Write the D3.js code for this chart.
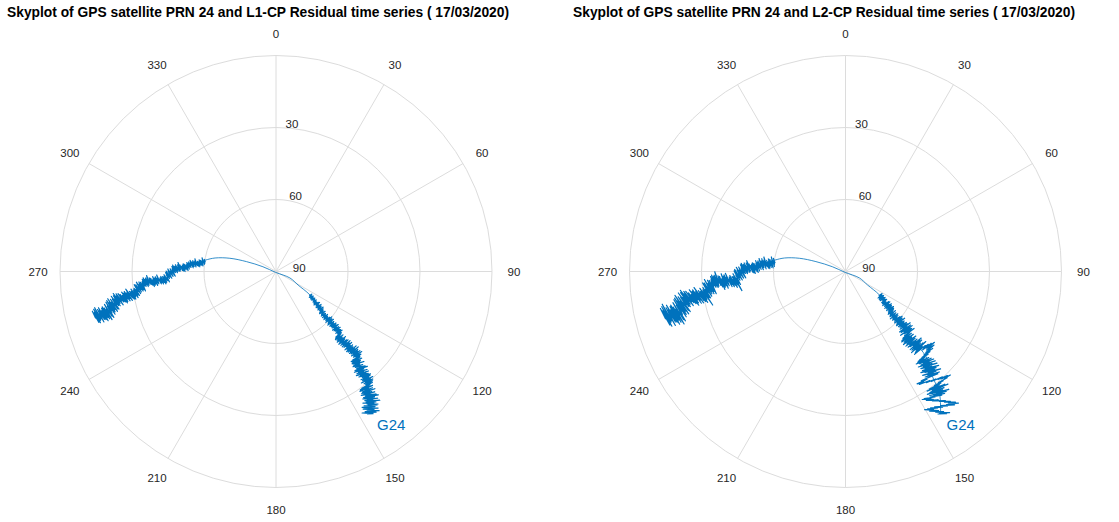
<!DOCTYPE html>
<html>
<head>
<meta charset="utf-8">
<script src="https://cdn.jsdelivr.net/npm/d3@7"></script>
<style>
  body { margin: 0; background: #fff; }
  svg { display: block; }
</style>
</head>
<body>
<svg id="chart" width="1119" height="522"></svg>
<script>
// ---- data -------------------------------------------------------------
const titles = [
  "Skyplot of GPS satellite PRN 24 and L1-CP Residual time series ( 17/03/2020)",
  "Skyplot of GPS satellite PRN 24 and L2-CP Residual time series ( 17/03/2020)"
];
const satelliteLabel = "G24";

const azimuthTicks = [0, 30, 60, 90, 120, 150, 180, 210, 240, 270, 300, 330];
const elevationRings = [0, 30, 60];
const elevationLabels = [30, 60, 90];

// PRN 24 pass (rise in the west, set in the south-east), degrees
const trackAz = [256, 257.6, 263.5, 266.3, 272, 279, 282.5, 286, 288.5, 290, 200,
                 114.9, 121.5, 124.7, 131.7, 135.6, 136.6, 140.4, 142.3, 146.3];
const trackEl = [12.2, 19.2, 33, 41.6, 50, 60, 64, 70, 77, 84.2, 89.6,
                 83.6, 79.2, 72.8, 61.7, 50.1, 41.1, 33.1, 26, 18.6];

// knot index ranges of the track that carry residual epochs
const riseKnots = [0, 5];
const setKnots = [13, 19];

// carrier-phase residuals (mm), rising arc then setting arc
const l1Rise = [
  2, -6, 7, 1, -4, 8, -7, 3, 6, -2, -8, 5, 0, 9, -5, 4, -3, 7, -6, 2,
  8, -2, 5, 10, -4, 1, 7, -5, 9, 3, -3, 6, 11, -1, 4, -6, 8, 2, 10, -3,
  5, -7, 3, -2, 8, -8, 1, 6, -5, 4, -9, 2, 7, -4, 0, -7, 5, -1, 6, -6,
  1, -9, 3, -5, -1, 4, -8, -3, 2, -10, 0, -6, 5, -4, -8, 1, -2, 3, -7, -1,
  4, -5, 2, 6, -3, 0, 5, -6, 3, -1, -4, 6, 1, -5, 4, -2, 7, -3, 2, -6,
  5, 0, 7, -2, 4, 8, -1, 3, 6, -3, 5, 1, 8, -1, 2, 6, -2, 4, 7, 0,
  3, -5, 1, 6, -4, 2, -1, 5, -6, 3, 0, -3, 5, -5, 2, 4, -4, 1, 6, -2,
  -4, 1, -6, -1, 2, -7, -3, 1, -5, 3, -6, -2, 2, -4, -8, 0, -3, 2, -5, -1,
  3, -4, 2, 5, -2, 0, 4, -5, 1, 3, -3, 5, -1, -4, 2, 4, -2, 1, -5, 3,
  5, 0, 4, -1, 6, 2, -2, 5, 1, 7, -1, 3, 6, 0, 4, -2, 5, 2, 7, 1,
  2, -3, 4, -1, -4, 3, 0, 5, -3, 1, -5, 2, 4, -2, 1, -4, 3, 5, -1, -3,
  1, -5, 2, -3, -6, 0, 3, -4, -1, 2, -5, 1, -2, 3, -4, -1, 2, -6, 0, -3,
  3, -1, 4, 0, -2, 5, 1, -3, 3, 2, -2, 4, 0, 5, -1, 2, -3, 4, 1, -2,
  2, -3, 3, -1, 1, -4, 2, 4, -2, 0, 3, -3, 1, -1, 4, -2, 2, -4, 3, 0,
  4, -1, 2, 5, 0, 3, -2, 4, 1, -1, 3, 5, 0, 2, -3, 4, 1, 3, -1, 2
];
const l1Set = [
  1, -2, 0, 2, -1, 1, -2, 2, 0, -1, 2, -2, 1, 0, -1, 2, -2, 1, 2, -1,
  0, 3, -2, 1, -3, 2, 0, -1, 3, -3, 1, 2, -2, 0, 3, -1, -3, 2, 1, -2,
  3, -1, 4, 0, 2, -2, 3, 1, 4, -1, 2, 0, 4, -2, 1, 3, -1, 4, 0, 2,
  -2, 3, -4, 1, 4, -3, 0, 2, -4, 3, -1, 4, -3, 1, -2, 3, 0, -4, 2, -1,
  -3, 2, -5, 0, -2, 3, -4, -1, 2, -5, 1, -3, 0, -4, 2, -2, -5, 1, -1, -3,
  4, -2, 5, 0, 6, -3, 2, 5, -1, 3, 6, -4, 1, 4, -2, 6, 0, 3, -3, 5,
  -4, 3, -1, 5, -5, 1, 4, -3, 2, -5, 0, 5, -2, 3, -4, 1, 5, -3, -1, 4,
  -6, 2, -3, 4, -7, 0, 3, -5, 1, -4, 4, -6, -1, 2, -7, 3, -2, -5, 1, -3,
  5, -3, 7, 1, -4, 6, 2, -2, 7, -1, 4, -5, 6, 0, 3, 7, -3, 2, 5, -2,
  -5, 4, -7, 2, 6, -3, 0, 7, -6, 3, -2, 5, -7, 1, 6, -4, 2, -6, 4, 0,
  -8, 1, -4, -7, 3, -5, -1, 2, -9, -3, 4, -6, 0, -8, 2, -4, -7, 1, -2, -6,
  6, -3, 8, 2, -5, 9, 0, 4, -4, 7, 1, -6, 8, 3, -2, 6, -5, 9, 2, -1,
  -6, 5, -8, 2, 7, -4, 0, 8, -7, 3, -2, 6, -9, 1, 5, -5, 8, -3, 4, -7,
  3, -6, 7, 0, -4, 9, 2, -7, 5, 8, -3, 4, -8, 1, 6, -5, 3, 9, -2, 4
];
const l2Rise = [
  3, -9, 10, 1, -6, 12, -10, 4, 8, -3, -12, 7, 0, 13, -7, 5, -4, 10, -9, 2,
  11, -3, 7, 14, -6, 2, 10, -7, 13, 4, -4, 9, 16, -1, 6, -8, 12, 3, 14, -4,
  7, -10, 4, -3, 11, -11, 1, 9, -7, 6, -13, 3, 10, -5, 0, -10, 7, -2, 9, -8,
  1, -13, 4, -7, -2, 5, -12, -4, 3, -14, 0, -9, 6, -5, -11, 2, -3, 4, -10, -1,
  6, -7, 3, 9, -4, 0, 7, -9, 4, -1, -6, 9, 1, -7, 6, -3, 10, -4, 3, -8,
  8, 0, 10, -3, 6, 12, -1, 4, 9, -4, 7, 1, 17, -1, 3, 9, -3, 6, 10, 0,
  4, -7, 2, 9, -6, 3, -1, 7, -9, 5, 0, -4, 8, -7, 3, 6, -6, 1, 9, -3,
  -6, 1, -9, -2, 3, -10, -4, 2, -8, 4, -9, -3, 3, -6, -12, 0, -4, 3, -7, -1,
  5, -6, 3, 8, -3, 0, 6, -8, 2, 5, -5, 8, -1, -6, 3, 6, -3, 2, -7, 4,
  8, 0, 6, -2, 9, 3, -3, 8, 2, 11, -1, 5, 9, 0, 16, -3, 8, 3, 10, 1,
  3, -5, 6, -2, -6, 4, 0, 7, -4, 2, -7, 3, 6, -3, 1, -6, 4, 7, -2, -4,
  2, -7, 3, -4, -8, 0, 4, -6, -1, 3, -7, 1, -3, 4, -6, -1, 3, -8, 0, -4,
  5, -2, 6, 0, -3, 7, 1, -4, 4, 3, -3, 6, 0, 7, -2, 3, -5, 6, 1, -3,
  3, -4, 5, -1, 2, -6, 3, 6, -3, 0, 4, -5, 2, -2, 6, -3, 3, -6, 4, 0,
  6, -2, 3, 7, 0, 4, -3, 6, 1, -2, 4, 7, 0, 3, -4, 6, 1, 4, -2, 3
];
const l2Set = [
  1, -3, 0, 3, -2, 2, -3, 3, 0, -2, 3, -3, 1, 0, -2, 3, -3, 2, 3, -1,
  0, 4, -3, 2, -4, 3, 0, -2, 4, -4, 1, 3, -3, 0, 4, -2, -4, 3, 1, -3,
  4, -2, 5, 0, 3, -3, 4, 1, 5, -2, 3, 0, 6, -3, 2, 4, -2, 5, 0, 3,
  -3, 4, -5, 1, 5, -4, 0, 3, -6, 4, -2, 5, -4, 2, -3, 4, 0, -5, 3, -1,
  -5, 4, -8, 1, -3, 6, -7, -1, 5, -8, 2, -5, 7, -6, 3, -3, -8, 4, -2, 6,
  7, -3, 9, 1, 10, -4, 3, 8, -1, 6, 10, -5, 2, 7, -3, 9, 1, 5, -4, 8,
  -2, 6, -8, 3, -5, 8, -7, 2, 7, -4, 0, 9, -6, 4, -9, 1, 6, -3, 8, -6,
  -3, -9, -1, -12, -5, -15, -8, -4, -13, -7, -2, -10, 1, -6, 4, -3, 7, 1, 9, 3,
  10, -2, 6, 12, -4, 3, 9, -6, 5, -1, 8, -7, 2, 11, -3, 6, -8, 4, 9, -2,
  5, -9, 2, 8, -6, 1, 10, -4, 6, -10, 3, -5, 9, -2, 4, -8, 7, 0, -6, 5,
  12, 6, 17, 10, 15, 4, 8, -2, 3, -9, -4, -14, -7, -17, -10, -13, -3, -8, 2, -5,
  8, -3, 11, 2, -8, 6, -11, 4, 9, -6, 1, 12, -4, 7, -10, 3, -7, 10, 0, -5,
  6, -2, 10, 5, 16, 9, 18, 12, 7, 14, 2, 8, -5, 1, -10, -4, -15, -8, -18, -11,
  -6, -14, 0, -7, 6, -2, 10, 3, 13, 7, 16, 9, 2, 11, -3, 5, -9, 1, -6, 3
];

const panelResiduals = [[l1Rise, l1Set], [l2Rise, l2Set]];

// ---- layout -----------------------------------------------------------
const svg = d3.select("#chart");
const R = 216;
const centers = [[276, 271.5], [845.5, 271.5]];
const titleX = [258, 824];
const gridColor = "#dcdcdc";
const textColor = "#262626";
const lineColor = "#0072bd";
const font = "'Liberation Sans', Arial, sans-serif";

const rScale = d3.scaleLinear().domain([90, 0]).range([0, R]);
const resScale = d3.scaleLinear().domain([-10, 10]).range([-10, 10]);
const rad = d => d * Math.PI / 180;

function project(az, el) {
  const r = rScale(el);
  return [r * Math.sin(rad(az)), -r * Math.cos(rad(az))];
}

const line = d3.line().curve(d3.curveCatmullRom.alpha(0.5));

panelResiduals.forEach((res, p) => {
  const [cx, cy] = centers[p];
  const g = svg.append("g").attr("transform", `translate(${cx},${cy})`);

  // title
  svg.append("text")
    .attr("x", titleX[p]).attr("y", 17)
    .attr("text-anchor", "middle")
    .attr("font-family", font).attr("font-weight", "bold")
    .attr("font-size", 13.8).attr("fill", "#000")
    .text(titles[p]);

  // grid: elevation rings and azimuth spokes
  g.selectAll("circle.ring").data(elevationRings).join("circle")
    .attr("class", "ring")
    .attr("r", d => rScale(d))
    .attr("fill", "none").attr("stroke", gridColor).attr("stroke-width", 1);

  g.selectAll("line.spoke").data(azimuthTicks).join("line")
    .attr("class", "spoke")
    .attr("x1", 0).attr("y1", 0)
    .attr("x2", d => project(d, 0)[0])
    .attr("y2", d => project(d, 0)[1])
    .attr("stroke", gridColor).attr("stroke-width", 1);

  // azimuth labels
  const labelR = R + 22;
  g.selectAll("text.az").data(azimuthTicks).join("text")
    .attr("class", "az")
    .attr("x", d => labelR * Math.sin(rad(d)))
    .attr("y", d => -labelR * Math.cos(rad(d)))
    .attr("text-anchor", "middle").attr("dominant-baseline", "central")
    .attr("font-family", font).attr("font-size", 11.5).attr("fill", textColor)
    .text(d => d);

  // elevation labels
  g.selectAll("text.el").data(elevationLabels).join("text")
    .attr("class", "el")
    .attr("x", d => 6 + d * 0.12)
    .attr("y", d => -rScale(d) - 3.5)
    .attr("dominant-baseline", "central")
    .attr("font-family", font).attr("font-size", 11.5).attr("fill", textColor)
    .text(d => d);

  // satellite track
  const pts = trackAz.map((az, i) => project(az, trackEl[i]));
  g.append("path")
    .attr("d", line(pts))
    .attr("fill", "none").attr("stroke", lineColor).attr("stroke-width", 0.8);

  // residual time series drawn normal to the track
  [riseKnots, setKnots].forEach((knots, k) => {
    const values = res[k];
    const sub = pts.slice(knots[0], knots[1] + 1);
    const guide = g.append("path").attr("d", line(sub))
      .attr("fill", "none").attr("stroke", "none");
    const node = guide.node();
    const L = node.getTotalLength();
    const along = d3.scaleLinear().domain([0, values.length - 1]).range([0, L]);
    const series = values.map((v, i) => {
      const s = along(i);
      const a = node.getPointAtLength(Math.max(0, s - 2));
      const b = node.getPointAtLength(Math.min(L, s + 2));
      const c = node.getPointAtLength(s);
      const tx = b.x - a.x, ty = b.y - a.y;
      const n = Math.hypot(tx, ty) || 1;
      const off = resScale(v);
      return [c.x - ty / n * off, c.y + tx / n * off];
    });
    guide.remove();
    g.append("path")
      .attr("d", d3.line()(series))
      .attr("fill", "none").attr("stroke", lineColor)
      .attr("stroke-width", 1.15).attr("stroke-linejoin", "round");
  });

  // satellite label at the last epoch
  const end = pts[pts.length - 1];
  g.append("text")
    .attr("x", end[0] + 6).attr("y", end[1] + 10)
    .attr("dominant-baseline", "central")
    .attr("font-family", font).attr("font-size", 15).attr("fill", lineColor)
    .text(satelliteLabel);
});
</script>
</body>
</html>
